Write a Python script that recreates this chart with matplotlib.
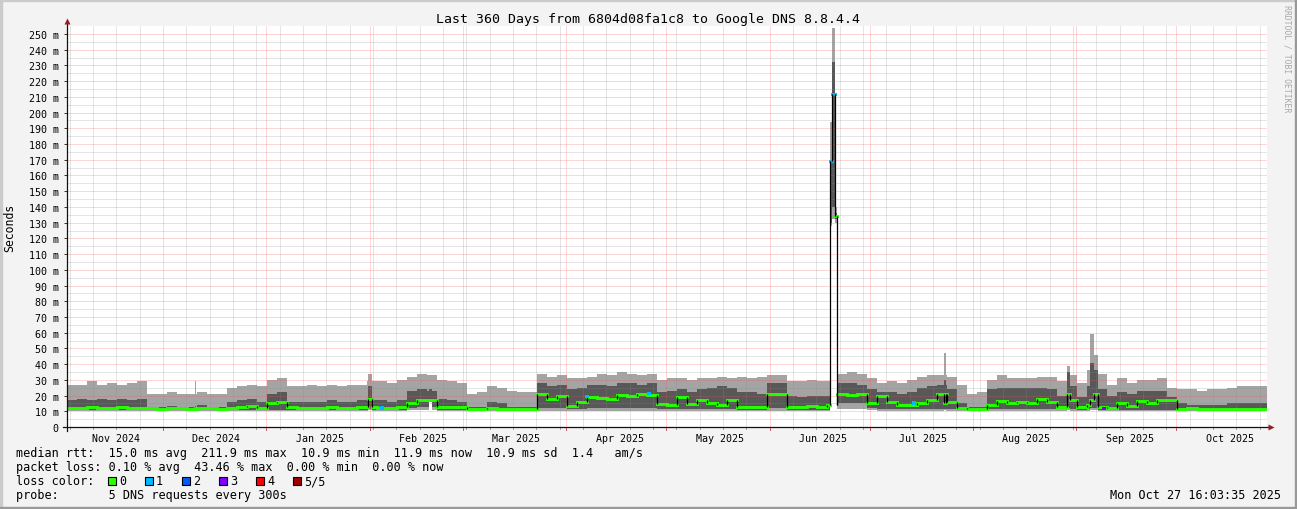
import datetime as dt
import numpy as np
import matplotlib
matplotlib.use("Agg")
import matplotlib.pyplot as plt
import matplotlib.dates as mdates
from matplotlib.patches import Rectangle

W, H, DPI = 1297, 510, 100
MONO = "DejaVu Sans Mono"

# ------------------------------------------------------------------ data
title = "Last 360 Days from 6804d08fa1c8 to Google DNS 8.8.4.4"
start = dt.datetime(2024, 11, 2, 4, 48)
span_days = 360
bin_days = 3  # each value below covers 3 days

# 5 pings sorted: ping1 (min) .. ping5 (max), values in ms
rtt_max = [
    27, 27, 29, 27, 28, 27, 28, 29, 21, 21,
    22, 21, 21, 22, 21, 21, 25, 26, 27, 26,
    30, 31, 26, 26, 27, 26, 27, 26, 27, 27,
    29, 29, 28, 30, 32, 34, 33, 30, 29, 28,
    21, 22, 26, 25, 23, 22, 22, 34, 32, 33,
    31, 31, 32, 34, 33, 35, 34, 33, 34, 30,
    31, 31, 30, 31, 31, 32, 31, 32, 31, 32,
    33, 33, 29, 29, 30, 29, 29, 34, 35, 34,
    31, 28, 29, 28, 30, 32, 33, 33, 32, 27,
    21, 22, 30, 33, 31, 31, 31, 32, 32, 29,
    33, 28, 36, 34, 27, 31, 28, 30, 30, 31,
    25, 24, 24, 23, 24, 24, 25, 26, 26, 26,
]
rtt_q4 = [
    17, 18, 17, 18, 17, 18, 17, 18, 13, 13,
    13.5, 13, 13, 14, 13, 13, 16, 17, 18, 16,
    21, 22, 16, 16, 16, 16, 17, 16, 16, 17,
    17, 17, 16, 17, 23, 24, 23, 18, 17, 16,
    12.5, 12.5, 16, 15, 13, 12.5, 12.5, 28, 26, 27,
    24, 25, 27, 27, 26, 28, 28, 27, 28, 22,
    23, 24, 22, 24, 25, 26, 25, 22, 22, 21,
    28, 28, 20, 19, 20, 20, 20, 28, 28, 27,
    24, 22, 22, 21, 22, 25, 26, 27, 24, 15,
    12.5, 13, 24, 25, 25, 25, 25, 25, 24, 20,
    26, 19, 26, 24, 20, 22, 21, 23, 23, 23,
    19, 15, 14, 14, 14, 14, 15, 15, 15, 15,
]
rtt_median = [
    12, 12, 12.5, 12, 12, 12.5, 12, 12, 11.8, 11.7,
    11.8, 11.8, 11.7, 11.8, 11.8, 11.7, 12, 12.5, 13.5, 12,
    15, 16, 12.5, 12, 12, 12, 12.5, 12, 12, 12.5,
    12.5, 12, 12, 12.5, 15, 17, 17, 13, 12.5, 12.5,
    11.3, 11.3, 12, 11.5, 11.3, 11.2, 11.2, 21, 18, 20,
    13.5, 16, 19, 18.5, 18, 20.5, 20, 21, 20.5, 14.5,
    14, 19, 14.5, 17, 15, 14, 17, 13, 13, 12.5,
    21, 21, 13, 13, 13.5, 13, 14, 21, 20.5, 21,
    15, 20, 16, 14, 14, 15, 17, 21, 16, 12,
    11.3, 11.5, 14, 16.5, 15, 16, 15, 17.5, 16, 12.5,
    17, 12.5, 14, 13, 12, 15, 13.5, 16.5, 15, 17,
    17, 11.5, 12, 11.5, 11.5, 11.5, 11.5, 11.5, 11.5, 11.5,
]
rtt_q2 = [
    11, 11, 11, 11, 11, 11, 11, 11, 11, 11,
    11, 11, 11, 11, 11, 11, 11, 11, 11, 11,
    11, 11, 11, 11, 11, 11, 11, 11, 11, 11,
    11, 11, 11, 11, 12, 12.5, 12.5, 11, 11, 11,
    10.8, 10.8, 10.8, 10.8, 10.8, 10.8, 10.8, 12, 12, 12,
    11.5, 11.5, 12, 12, 12, 12, 12, 12, 12, 11.5,
    11.5, 11.5, 11.5, 11.5, 11.5, 11.5, 11.5, 11, 11, 11,
    12, 12, 11, 11, 11, 11, 11, 15, 15, 15,
    12, 11.5, 11.5, 11.5, 11.5, 11.5, 11.5, 11.5, 11.5, 10.8,
    10.8, 10.8, 11.5, 11.5, 11.5, 11.5, 11.5, 11.5, 11.5, 11.5,
    11.5, 11, 11.5, 11, 11, 11, 11, 11, 11, 11,
    11, 10.8, 10.8, 10.8, 10.8, 10.8, 10.8, 10.8, 10.8, 10.8,
]
rtt_min = [
    10.3, 10.3, 10.3, 10.3, 10.3, 10.3, 10.3, 10.3, 10.3, 10.3,
    10.3, 10.3, 10.3, 10.3, 10.3, 10.3, 10.3, 10.3, 10.3, 10.3,
    10.3, 10.3, 10.3, 10.3, 10.3, 10.3, 10.3, 10.3, 10.3, 10.3,
    10.3, 10.3, 10.3, 10.3, 10.5, 10.5, 10.5, 10.3, 10.3, 10.3,
    10.3, 10.3, 10.3, 10.3, 10.3, 10.3, 10.3, 10.3, 10.3, 10.3,
    10.3, 10.3, 10.3, 10.3, 10.3, 10.3, 10.3, 10.3, 10.3, 10.3,
    10.3, 10.3, 10.3, 10.3, 10.3, 10.3, 10.3, 10.3, 10.3, 10.3,
    10.3, 10.3, 10.3, 10.3, 10.3, 10.3, 10.3, 11.5, 11.5, 11.5,
    10.5, 10.3, 10.3, 10.3, 10.3, 10.3, 10.3, 10.3, 10.3, 10.3,
    10.3, 10.3, 10.3, 10.3, 10.3, 10.3, 10.3, 10.3, 10.3, 10.3,
    10.3, 10.3, 10.3, 10.3, 10.3, 10.3, 10.3, 10.3, 10.3, 10.3,
    10.3, 10.3, 10.3, 10.3, 10.3, 10.3, 10.3, 10.3, 10.3, 10.3,
]

# short events (day offsets from start) that replace the 3-day values
event_start = [38.25, 90.3, 108.6, 228.75, 229.35, 230.25, 262.95, 300.0, 306.9, 308.1]
event_end   = [38.7, 91.5, 109.35, 229.35, 230.25, 230.85, 263.55, 300.9, 308.1, 309.3]
event_max    = [29, 34, 33, 194, 254, 140, 47, 39, 59, 46]
event_q4     = [13.5, 26, 24, 169, 232, 136, 30, 35, 41, 36]
event_median = [11.8, 17.5, 17, 169, 212, 134, 15, 21, 17, 21]
event_q2     = [11, 11.5, 16, 130, 140, 132, 11.5, 12, 12, 12]
event_min    = [10.4, 10.5, 16, 128, 132, 130, 10.5, 10.5, 10.5, 10.5]
event_loss   = [0, 0, 0, 1, 1, 0, 0, 0, 0, 0]

# single median samples with packet loss
loss_dot_day = [94.5, 156.0, 174.6, 254.1, 311.1]
loss_dot_ms = [12.1, 19.3, 21.4, 15.3, 11.9]
loss_dot_class = [1, 1, 1, 1, 3]

loss_labels = ["0", "1", "2", "3", "4", "5/5"]
loss_colors = ["#26ff00", "#00b8ff", "#0059ff", "#7e00ff", "#ff0000", "#a00000"]

y_major = list(range(0, 251, 10))
y_minor = list(range(5, 251, 10))

legend_rows = [
    "median rtt:  15.0 ms avg  211.9 ms max  10.9 ms min  11.9 ms now  10.9 ms sd  1.4   am/s",
    "packet loss: 0.10 % avg  43.46 % max  0.00 % min  0.00 % now",
    "loss color:",
    "probe:       5 DNS requests every 300s",
]
stamp = "Mon Oct 27 16:03:35 2025"

# ------------------------------------------------------------------ build segments
n = len(rtt_max)
base_edges = [i * bin_days for i in range(n + 1)]
edges = sorted(set(base_edges + event_start + event_end))
seg = []  # (t0, t1, max, q4, med, q2, min, loss)
for t0, t1 in zip(edges[:-1], edges[1:]):
    mid = 0.5 * (t0 + t1)
    hit = [k for k in range(len(event_start)) if event_start[k] <= mid < event_end[k]]
    if hit:
        k = hit[0]
        seg.append((t0, t1, event_max[k], event_q4[k], event_median[k],
                    event_q2[k], event_min[k], event_loss[k]))
    else:
        i = min(int(mid // bin_days), n - 1)
        seg.append((t0, t1, rtt_max[i], rtt_q4[i], rtt_median[i],
                    rtt_q2[i], rtt_min[i], 0))
seg = np.array(seg, dtype=float)

end = start + dt.timedelta(days=span_days)
x0 = mdates.date2num(start)
x1 = mdates.date2num(end)
t0s = x0 + seg[:, 0]
t1s = x0 + seg[:, 1]
xs = np.column_stack([t0s, t1s]).ravel()


def rep(col):
    return np.repeat(seg[:, col], 2)


# ------------------------------------------------------------------ figure
fig = plt.figure(figsize=(W / DPI, H / DPI), dpi=DPI, facecolor="#F3F3F3")
ax_top, ax_bot, ax_l, ax_r = 27.3, 428, 67, 1267
ax = fig.add_axes([ax_l / W, 1 - ax_bot / H, (ax_r - ax_l) / W, (ax_bot - ax_top) / H])
ax.set_facecolor("white")
ax.set_xlim(x0, x1)
ax.set_ylim(0, 254.9)
for s in ax.spines.values():
    s.set_visible(False)

# smoke
ax.fill_between(xs, rep(6), rep(2), color="#A4A4A4", lw=0, zorder=2)
ax.fill_between(xs, rep(5), rep(3), color="#585858", lw=0, zorder=3)

# median: horizontal pieces coloured by loss, black where it jumps
med = seg[:, 4]
loss = seg[:, 7].astype(int)
for c in sorted(set(loss)):
    px, py = [], []
    for k in np.where(loss == c)[0]:
        px += [t0s[k], t1s[k], np.nan]
        py += [med[k], med[k], np.nan]
    ax.plot(px, py, color=loss_colors[c], lw=2.1, solid_capstyle="projecting", zorder=7)
jump = np.abs(np.diff(med)) > 0.6
ax.vlines(t1s[:-1][jump], med[:-1][jump], med[1:][jump], color="black", lw=0.9, zorder=8)
ax.scatter(x0 + np.array(loss_dot_day), loss_dot_ms, marker="s", s=5, lw=0,
           c=[loss_colors[c] for c in loss_dot_class], zorder=9)

# grid (dotted, drawn over the data like rrdtool)
dot = (0, (1, 1))
gmin = (0.55, 0.55, 0.55, 0.45)
gmaj = (1.0, 0.30, 0.30, 0.45)
for v in y_minor:
    ax.axhline(v, color=gmin, lw=0.72, ls=dot, zorder=5)
for v in y_major[1:]:
    ax.axhline(v, color=gmaj, lw=0.72, ls=dot, zorder=5)
months = [m for m in mdates.MonthLocator(bymonthday=1).tick_values(start, end) if x0 < m < x1]
weeks = [w for w in mdates.WeekdayLocator(byweekday=mdates.SU).tick_values(start, end)
         if x0 < w < x1 and min(abs(w - m) for m in months) > 0.5]
for w in weeks:
    ax.axvline(w, color=gmin, lw=0.72, ls=dot, zorder=5)
for m in months:
    ax.axvline(m, color=gmaj, lw=0.72, ls=dot, zorder=5)

# ticks
ax.set_yticks(y_major)
ax.set_yticklabels(["0"] + [f"{v} m" for v in y_major[1:]], family=MONO, fontsize=7.2)
ax.tick_params(axis="y", length=2.5, width=0.7, color="#333333", pad=3.5)
mids = [m for m in mdates.MonthLocator(bymonthday=17).tick_values(start, end) if x0 < m < x1]
ax.set_xticks(mids)
ax.set_xticklabels([mdates.num2date(m).strftime("%b %Y") for m in mids], family=MONO, fontsize=7.2)
ax.tick_params(axis="x", length=0, pad=4.0)
tr = ax.get_xaxis_transform()
for m in months:
    ax.plot([m, m], [-3 / 400.7, 0], transform=tr, color="#C06060", lw=0.7, clip_on=False)
for w in weeks:
    ax.plot([w, w], [-2 / 400.7, 0], transform=tr, color="#A0A0A0", lw=0.7, clip_on=False)

# axes with arrows
ph = ax_bot - ax_top
pw = ax_r - ax_l
ax.plot([0, 0], [-4 / ph, 1 + 4 / ph], transform=ax.transAxes, color="#111111", lw=0.9,
        clip_on=False, zorder=9)
ax.plot([-4 / pw, 1 + 2 / pw], [0, 0], transform=ax.transAxes, color="#111111", lw=0.9,
        clip_on=False, zorder=9)
ax.plot([0], [1 + 5 / ph], transform=ax.transAxes, marker="^", ms=4.5, color="#9B1B1B",
        mec="none", clip_on=False, zorder=10)
ax.plot([1 + 4 / pw], [0], transform=ax.transAxes, marker=">", ms=4.5, color="#9B1B1B",
        mec="none", clip_on=False, zorder=10)


# texts
def fx(px):
    return px / W


def fy(py):
    return 1 - py / H


fig.text(fx(648.5), fy(19), title, ha="center", va="center", family=MONO, fontsize=9.55)
fig.text(fx(10), fy(228), "Seconds", rotation=90, ha="center", va="center", family=MONO, fontsize=8.3)
fig.text(fx(1287), fy(5), "RRDTOOL / TOBI OETIKER", rotation=270, ha="center", va="top",
         family=MONO, fontsize=5.9, color="#A8A8A8")
row_y = [454, 468, 482, 496]
for txt, yy in zip(legend_rows, row_y):
    fig.text(fx(16), fy(yy), txt, ha="left", va="center", family=MONO, fontsize=8.5)
for i, (lab, col) in enumerate(zip(loss_labels, loss_colors)):
    bx = 108 + 37 * i
    fig.patches.append(Rectangle((fx(bx), fy(486)), 8 / W, 8 / H, transform=fig.transFigure,
                                 facecolor=col, edgecolor="black", lw=0.8))
    fig.text(fx(bx + 11), fy(482), lab, ha="left", va="center", family=MONO, fontsize=8.5)
fig.text(fx(1281), fy(496), stamp, ha="right", va="center", family=MONO, fontsize=8.5)

# frame
fig.patches.append(Rectangle((0, 1 - 2 / H), 1, 2 / H, transform=fig.transFigure, color="#CBCBCB"))
fig.patches.append(Rectangle((0, 0), 2 / W, 1, transform=fig.transFigure, color="#CBCBCB"))
fig.patches.append(Rectangle((0, 0), 1, 2 / H, transform=fig.transFigure, color="#999999"))
fig.patches.append(Rectangle((1 - 2 / W, 0), 2 / W, 1, transform=fig.transFigure, color="#999999"))

fig.savefig("out.png", dpi=DPI, facecolor=fig.get_facecolor())
